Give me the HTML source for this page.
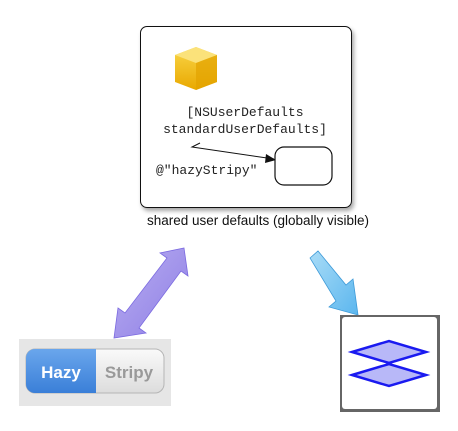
<!DOCTYPE html>
<html><head><style>
body{margin:0;width:458px;height:431px;background:#fff;position:relative;overflow:hidden;font-family:"Liberation Sans",sans-serif}
.abs{position:absolute}
.mono{font-family:"Liberation Mono",monospace;font-size:13px;color:#222}
</style></head><body>
<div class="abs" style="left:140px;top:26px;width:210px;height:180px;border:1.3px solid #111;border-radius:7px;box-shadow:2px 3px 4px rgba(0,0,0,.35)"></div>
<div class="abs" style="left:123px;top:213px;width:270px;text-align:center;font-size:13.5px;color:#111">shared user defaults (globally visible)</div>
<svg class="abs" style="left:0;top:0" width="458" height="431">
<defs>
<linearGradient id="cf" x1="0" y1="0" x2="0" y2="1"><stop offset="0" stop-color="#f9d648"/><stop offset="1" stop-color="#e9a800"/></linearGradient>
<linearGradient id="pu" x1="0" y1="0" x2="1" y2="1"><stop offset="0" stop-color="#b9aef0"/><stop offset="1" stop-color="#8e7ee6"/></linearGradient>
<linearGradient id="bl" x1="0" y1="0" x2="1" y2="1"><stop offset="0" stop-color="#a9dcf7"/><stop offset="1" stop-color="#5bb6ee"/></linearGradient>
<linearGradient id="hz" x1="0" y1="0" x2="0" y2="1"><stop offset="0" stop-color="#6aa6ec"/><stop offset="1" stop-color="#3a7fd8"/></linearGradient>
<linearGradient id="st" x1="0" y1="0" x2="0" y2="1"><stop offset="0" stop-color="#fafafa"/><stop offset="1" stop-color="#dcdcdc"/></linearGradient>
</defs>
<polygon points="196,47 217,55 217,82 196,90 175,82 175,55" fill="url(#cf)"/>
<polygon points="175,55 196,47 217,55 196,63" fill="#fbe27a"/>
<polygon points="196,63 217,55 217,82 196,90" fill="#e3a200" opacity=".7"/>
<polyline points="200,143 192,147 274,159" fill="none" stroke="#111" stroke-width="1"/>
<polygon points="276,160 266,154 265,163" fill="#111"/>
<rect x="275" y="147" width="57" height="38" rx="9" fill="#fff" stroke="#111" stroke-width="1.2"/>
<polygon points="184,248 188,276 181,271 139,328 146,333 114,338 118,308 125,313 167,258 160,253" fill="url(#pu)" stroke="#7b6ae0" stroke-width="0.8"/>
<polygon points="310,258 318,251 346,285 353,279 358,315 329,307 336,301" fill="url(#bl)" stroke="#3d9ad8" stroke-width="0.8"/>
<rect x="19" y="339" width="152" height="67" fill="#e6e6e6"/>
<rect x="26" y="349" width="138" height="44" rx="9" fill="url(#st)" stroke="#b5b5b5"/>
<path d="M35,349 H96 V393 H35 A9,9 0 0 1 26,384 V358 A9,9 0 0 1 35,349Z" fill="url(#hz)"/>
<text x="61" y="378" text-anchor="middle" font-family="Liberation Sans" font-weight="bold" font-size="17" fill="#fff">Hazy</text>
<text x="129" y="378" text-anchor="middle" font-family="Liberation Sans" font-weight="bold" font-size="17" fill="#999">Stripy</text>
<rect x="340" y="315" width="100" height="97" fill="#666"/>
<rect x="342" y="317" width="95" height="92" rx="3" fill="#fff"/>
<polygon points="352,352 389,341 426,352 389,363" fill="#b8b8f8" stroke="#1a1af0" stroke-width="2.5"/>
<polygon points="352,375 389,364 426,375 389,386" fill="#b8b8f8" stroke="#1a1af0" stroke-width="2.5"/>
</svg>
<div class="abs mono" style="left:140px;top:104px;width:210px;text-align:center;line-height:17px">[NSUserDefaults<br>standardUserDefaults]</div>
<div class="abs mono" style="left:156px;top:163px">@"hazyStripy"</div>
</body></html>
